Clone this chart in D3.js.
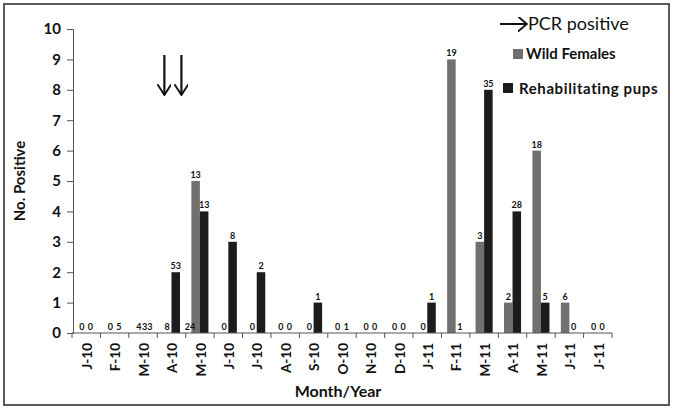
<!DOCTYPE html>
<html>
<head>
<meta charset="utf-8">
<script src="https://cdn.jsdelivr.net/npm/d3@7"></script>
<style>
  body { margin: 0; background: #fff; }
  text { font-family: Lato, "Open Sans", sans-serif; }
</style>
</head>
<body>
<div id="chart"></div>
<script>
// data
const months = ['J-10', 'F-10', 'M-10', 'A-10', 'M-10', 'J-10', 'J-10', 'A-10', 'S-10', 'O-10',
  'N-10', 'D-10', 'J-11', 'F-11', 'M-11', 'A-11', 'M-11', 'J-11', 'J-11'];
const wildFemales = [0, 0, 0, 0, 5, 0, 0, 0, 0, 0, 0, 0, 0, 9, 3, 1, 6, 1, 0];
const rehabPups = [0, 0, 0, 2, 4, 3, 2, 0, 1, 0, 0, 0, 1, 0, 8, 4, 1, 0, 0];
// sample sizes printed above each bar
const wildFemalesN = ['0', '0', '4', '8', '13', '0', '0', '0', '0', '0', '0', '0', '0', '19', '3', '2', '18', '6', '0'];
const rehabPupsN = ['0', '5', '33', '53', '13', '8', '2', '0', '1', '1', '0', '0', '1', '1', '35', '28', '5', '0', '0'];
// stray label sitting at the start of the 2nd M-10 slot
const extraLabels = [{ index: 4, text: '24' }];
// PCR positive arrows (fractional category position)
const pcrArrows = [3.25, 3.85];
const yTicks = [0, 1, 2, 3, 4, 5, 6, 7, 8, 9, 10];

const width = 675, height = 412;
const margin = { left: 73, right: 63, top: 29, bottom: 79 };

const svg = d3.select('#chart').append('svg')
  .attr('width', width)
  .attr('height', height);

svg.append('rect')
  .attr('x', 4).attr('y', 4)
  .attr('width', 665).attr('height', 401)
  .attr('fill', 'none')
  .attr('stroke', '#5a5a5a')
  .attr('stroke-width', 2);

const idx = months.map((d, i) => i);
const x0 = d3.scaleBand().domain(idx).range([margin.left - 1, width - margin.right]).padding(0);
const x1 = d3.scaleBand().domain(['wild', 'pups'])
  .range([x0.bandwidth() * 0.2, x0.bandwidth() * 0.8]);
const y = d3.scaleLinear().domain([0, 10]).range([height - margin.bottom, margin.top]);

const series = [
  { key: 'wild', name: 'Wild Females', values: wildFemales, labels: wildFemalesN, color: '#707070' },
  { key: 'pups', name: 'Rehabilitating pups', values: rehabPups, labels: rehabPupsN, color: '#1c1c1c' },
];

// bars
const g = svg.append('g');
series.forEach((s) => {
  g.selectAll('rect.' + s.key)
    .data(s.values)
    .join('rect')
    .attr('class', s.key)
    .attr('x', (d, i) => x0(i) + x1(s.key))
    .attr('width', x1.bandwidth())
    .attr('y', (d) => y(d))
    .attr('height', (d) => y(0) - y(d))
    .attr('fill', s.color);

  g.selectAll('text.' + s.key)
    .data(s.labels)
    .join('text')
    .attr('class', s.key)
    .attr('x', (d, i) => x0(i) + x1(s.key) + x1.bandwidth() / 2)
    .attr('y', (d, i) => y(s.values[i]) - 3)
    .attr('text-anchor', 'middle')
    .attr('font-size', 9)
    .attr('font-weight', 'bold')
    .attr('fill', '#111')
    .text((d) => d);
});

g.selectAll('text.extra')
  .data(extraLabels)
  .join('text')
  .attr('class', 'extra')
  .attr('x', (d) => x0(d.index) - 1)
  .attr('y', y(0) - 3)
  .attr('font-size', 9)
  .attr('font-weight', 'bold')
  .attr('fill', '#111')
  .text((d) => d.text);

// y axis
const yAxis = svg.append('g')
  .attr('transform', `translate(${margin.left},0)`)
  .call(d3.axisLeft(y).tickValues(yTicks).tickSize(6).tickPadding(6));
yAxis.select('.domain').attr('stroke', '#555');
yAxis.selectAll('.tick line').attr('stroke', '#555');
yAxis.selectAll('.tick text')
  .attr('font-size', 15)
  .attr('font-weight', 'bold')
  .attr('fill', '#111')
  .style('font-family', 'Lato, sans-serif');

// x axis: ticks on category boundaries
const xAxis = svg.append('g').attr('transform', `translate(0,${y(0)})`);
xAxis.append('line')
  .attr('x1', x0.range()[0]).attr('x2', x0.range()[1])
  .attr('stroke', '#555');
xAxis.selectAll('line.tick')
  .data(idx.concat([months.length]))
  .join('line')
  .attr('class', 'tick')
  .attr('x1', (i) => x0.range()[0] + i * x0.step())
  .attr('x2', (i) => x0.range()[0] + i * x0.step())
  .attr('y1', 0).attr('y2', 5)
  .attr('stroke', '#555');
xAxis.selectAll('text')
  .data(months)
  .join('text')
  .attr('transform', (d, i) => `translate(${x0(i) + x0.bandwidth() / 2 + 1},10) rotate(-90)`)
  .attr('text-anchor', 'end')
  .attr('dy', '0.35em')
  .attr('font-size', 13.5)
  .attr('font-weight', 'bold')
  .attr('fill', '#111')
  .text((d) => d);

// axis titles
svg.append('text')
  .attr('x', 338).attr('y', 397)
  .attr('text-anchor', 'middle')
  .attr('font-size', 16)
  .attr('font-weight', 'bold')
  .attr('fill', '#111')
  .text('Month/Year');

svg.append('text')
  .attr('transform', `translate(25,${(y(0) + y(10)) / 2}) rotate(-90)`)
  .attr('text-anchor', 'middle')
  .attr('font-size', 15)
  .attr('font-weight', 'bold')
  .attr('fill', '#111')
  .text('No. Positive');

// arrow markers
const defs = svg.append('defs');
function addHead(id, len, wid) {
  defs.append('marker')
    .attr('id', id)
    .attr('viewBox', '0 0 10 10')
    .attr('refX', 9).attr('refY', 5)
    .attr('markerWidth', len).attr('markerHeight', wid)
    .attr('markerUnits', 'userSpaceOnUse')
    .attr('orient', 'auto')
    .attr('preserveAspectRatio', 'none')
    .append('path')
    .attr('d', 'M0,0 L9,5 L0,10')
    .attr('fill', 'none')
    .attr('stroke', '#111')
    .attr('stroke-width', 1.4);
}
addHead('headDown', 12, 14);
addHead('headRight', 10, 15);

// PCR positive arrows
svg.selectAll('line.pcr')
  .data(pcrArrows)
  .join('line')
  .attr('class', 'pcr')
  .attr('x1', (d) => x0.range()[0] + d * x0.step())
  .attr('x2', (d) => x0.range()[0] + d * x0.step())
  .attr('y1', 55).attr('y2', 95)
  .attr('stroke', '#111')
  .attr('stroke-width', 2.2)
  .attr('marker-end', 'url(#headDown)');

// legend
const legend = svg.append('g');
legend.append('line')
  .attr('x1', 500).attr('x2', 527)
  .attr('y1', 24).attr('y2', 24)
  .attr('stroke', '#111')
  .attr('stroke-width', 2)
  .attr('marker-end', 'url(#headRight)');
legend.append('text')
  .attr('x', 528).attr('y', 30)
  .attr('font-size', 18)
  .attr('fill', '#111')
  .text('PCR positive');

const legendPos = [
  { sx: 513, sy: 49, tx: 526, ty: 59, ls: 0 },
  { sx: 503, sy: 83, tx: 519, ty: 94, ls: 0.6 },
];
series.forEach((s, i) => {
  const p = legendPos[i];
  legend.append('rect')
    .attr('x', p.sx).attr('y', p.sy)
    .attr('width', 10).attr('height', 10)
    .attr('fill', s.color);
  legend.append('text')
    .attr('x', p.tx).attr('y', p.ty)
    .attr('font-size', 15)
    .attr('font-weight', 'bold')
    .attr('letter-spacing', p.ls)
    .attr('fill', '#111')
    .text(s.name);
});
</script>
</body>
</html>
